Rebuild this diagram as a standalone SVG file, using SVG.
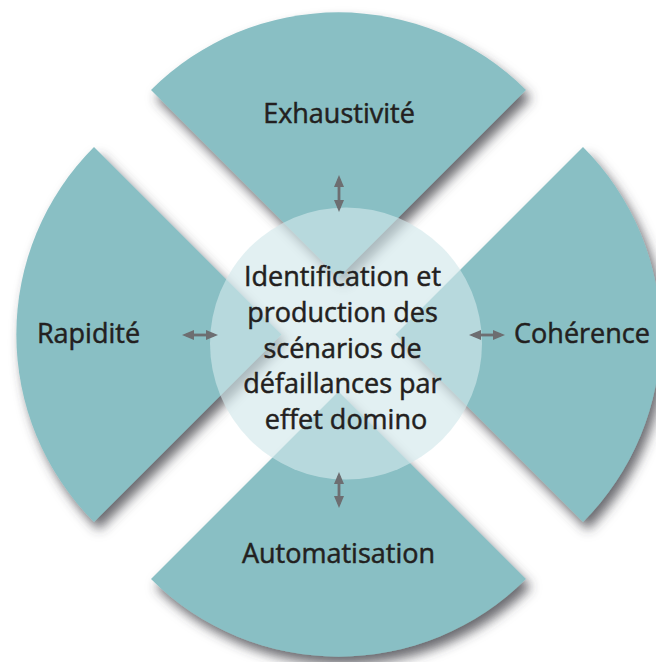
<svg xmlns="http://www.w3.org/2000/svg" width="656" height="662" viewBox="0 0 656 662">
  <defs>
    <filter id="shadow" x="-15%" y="-15%" width="135%" height="135%">
      <feDropShadow dx="5" dy="8" stdDeviation="6" flood-color="#3a3a40" flood-opacity="0.75"/>
    </filter>
    <marker id="head" viewBox="0 0 12 10" refX="8" refY="5" markerWidth="12" markerHeight="10" markerUnits="userSpaceOnUse" orient="auto-start-reverse">
      <path d="M0,0 L12,5 L0,10 Z" fill="#6d6e71"/>
    </marker>
    <style>
      .sector { fill: #89bfc4; filter: url(#shadow); }
      .label { font-family: "Open Sans", "Noto Sans", sans-serif; font-size: 27px; fill: #231f20; stroke: #231f20; stroke-width: 0.5; text-anchor: middle; }
      .core { fill: #d2e7ea; fill-opacity: 0.64; }
      .conn { stroke: #6d6e71; stroke-width: 2.8; fill: none; marker-start: url(#head); marker-end: url(#head); }
    </style>
  </defs>
  <rect width="656" height="662" fill="#ffffff"/>

  <g id="node-exhaustivite">
    <path class="sector" d="M338.5,277.5 L151,90 A265.2,265.2 0 0 1 526,90 Z"/>
    <text class="label" x="339" y="123">Exhaustivité</text>
  </g>
  <g id="node-coherence">
    <path class="sector" d="M395.5,334.5 L583,147 A265.2,265.2 0 0 1 583,522 Z"/>
    <text class="label" x="582" y="343">Cohérence</text>
  </g>
  <g id="node-automatisation">
    <path class="sector" d="M338.5,391.5 L526,579 A265.2,265.2 0 0 1 151,579 Z"/>
    <text class="label" x="338.5" y="563">Automatisation</text>
  </g>
  <g id="node-rapidite">
    <path class="sector" d="M281.5,334.5 L94,522 A265.2,265.2 0 0 1 94,147 Z"/>
    <text class="label" x="88.5" y="343">Rapidité</text>
  </g>

  <g id="node-centre">
    <circle class="core" cx="346" cy="343.5" r="136"/>
    <text class="label">
      <tspan x="346" y="286">Identification et</tspan>
      <tspan x="346" y="321.8">production des</tspan>
      <tspan x="346" y="357.6">scénarios de</tspan>
      <tspan x="346" y="393.4">défaillances par</tspan>
      <tspan x="346" y="429.2">effet domino</tspan>
    </text>
  </g>

  <g id="connectors">
    <line class="conn" x1="339" y1="179" x2="339" y2="208"/>
    <line class="conn" x1="339" y1="476" x2="339" y2="504"/>
    <line class="conn" x1="186" y1="335" x2="214" y2="335"/>
    <line class="conn" x1="473" y1="335" x2="501" y2="335"/>
  </g>
</svg>
